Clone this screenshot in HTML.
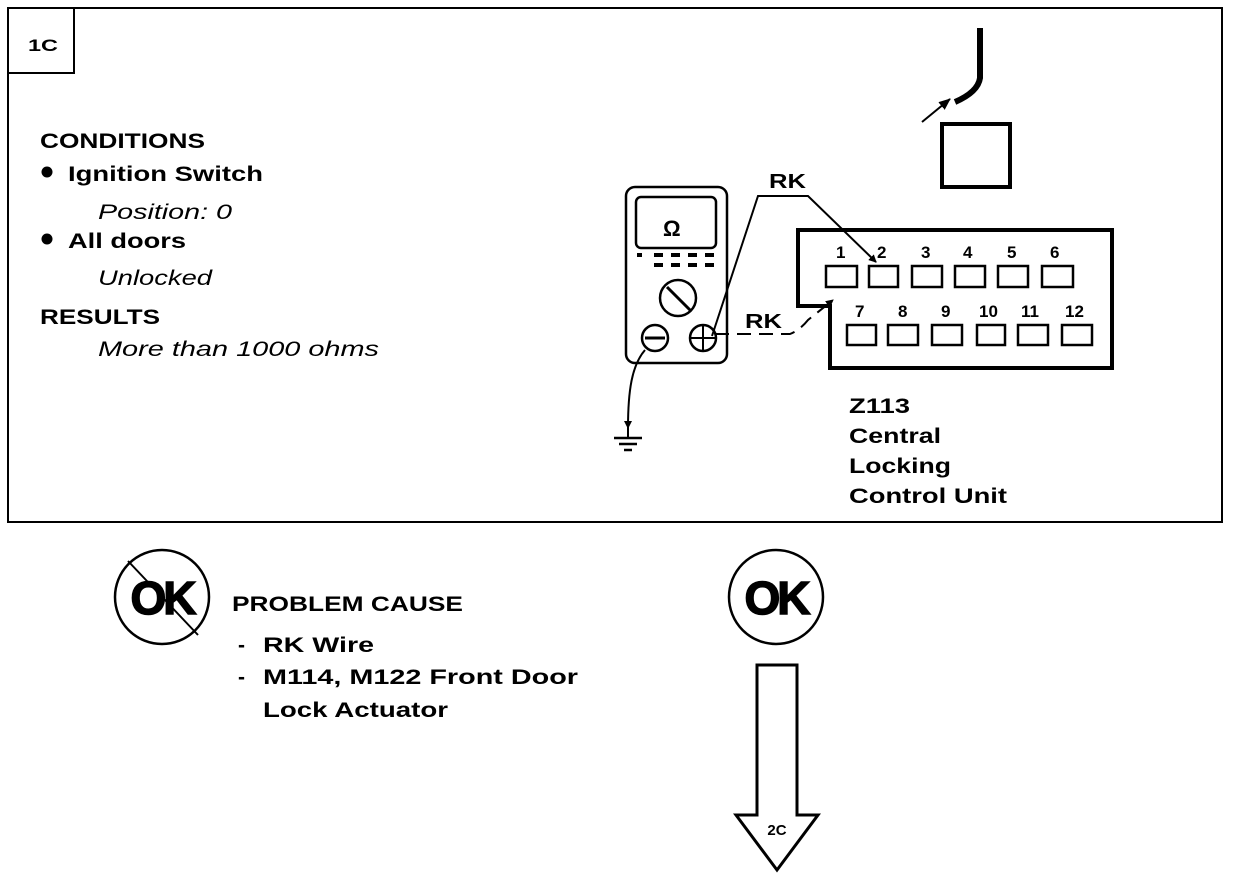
<!DOCTYPE html>
<html><head><meta charset="utf-8"><style>
html,body{margin:0;padding:0;background:#fff;}
svg{display:block;}
text{font-family:"Liberation Sans",sans-serif;font-weight:bold;fill:#000;}
.i{font-style:italic;font-weight:normal;}
</style></head><body>
<svg width="1248" height="874" viewBox="0 0 1248 874" xmlns="http://www.w3.org/2000/svg">
<defs>
<marker id="ah" markerWidth="8" markerHeight="8" refX="7" refY="4" orient="auto" markerUnits="userSpaceOnUse"><path d="M0,0 L8,4 L0,8 z" fill="#000"/></marker>
<marker id="ah2" markerWidth="12" markerHeight="10" refX="11" refY="5" orient="auto" markerUnits="userSpaceOnUse"><path d="M0,0 L12,5 L0,10 z" fill="#000"/></marker>
</defs>
<g fill="none" stroke="#000">
<rect x="8" y="8" width="1214" height="514" stroke-width="2"/>
<polyline points="8,73 74,73 74,8" stroke-width="2"/>
</g>
<text x="28" y="51" font-size="17" textLength="30" lengthAdjust="spacingAndGlyphs">1C</text>
<text x="40" y="148" font-size="21" textLength="165" lengthAdjust="spacingAndGlyphs">CONDITIONS</text>
<circle cx="47" cy="172" r="5.5"/>
<text x="68" y="181" font-size="21" textLength="195" lengthAdjust="spacingAndGlyphs">Ignition Switch</text>
<text x="98" y="219" font-size="21" class="i" textLength="134" lengthAdjust="spacingAndGlyphs">Position: 0</text>
<circle cx="47" cy="239" r="5.5"/>
<text x="68" y="248" font-size="21" textLength="118" lengthAdjust="spacingAndGlyphs">All doors</text>
<text x="98" y="285" font-size="21" class="i" textLength="114" lengthAdjust="spacingAndGlyphs">Unlocked</text>
<text x="40" y="324" font-size="21" textLength="120" lengthAdjust="spacingAndGlyphs">RESULTS</text>
<text x="98" y="356" font-size="21" class="i" textLength="281" lengthAdjust="spacingAndGlyphs">More than 1000 ohms</text>

<!-- meter -->
<g fill="none" stroke="#000" stroke-width="2.5">
<rect x="626" y="187" width="101" height="176" rx="9"/>
<rect x="636" y="197" width="80" height="51" rx="5"/>
<circle cx="678" cy="298" r="18"/>
<line x1="667" y1="287" x2="690" y2="310" stroke-width="3"/>
<circle cx="655" cy="338" r="13"/>
<line x1="645" y1="338" x2="665" y2="338" stroke-width="3"/>
<circle cx="703" cy="338" r="13"/>
<line x1="691" y1="338" x2="715" y2="338" stroke-width="2"/>
<line x1="703" y1="326" x2="703" y2="350" stroke-width="2"/>
</g>
<text x="663" y="236" font-size="22">Ω</text>
<g stroke="#000" stroke-width="4">
<line x1="637" y1="255" x2="642" y2="255"/><line x1="654" y1="255" x2="663" y2="255"/><line x1="671" y1="255" x2="680" y2="255"/><line x1="688" y1="255" x2="697" y2="255"/><line x1="705" y1="255" x2="714" y2="255"/>
<line x1="654" y1="265" x2="663" y2="265"/><line x1="671" y1="265" x2="680" y2="265"/><line x1="688" y1="265" x2="697" y2="265"/><line x1="705" y1="265" x2="714" y2="265"/>
</g>
<!-- ground -->
<path d="M645,350 C632,365 628,390 628,428" fill="none" stroke="#000" stroke-width="2" marker-end="url(#ah)"/>
<line x1="628" y1="428" x2="628" y2="437" stroke="#000" stroke-width="2"/>
<g stroke="#000" stroke-width="2.5"><line x1="614" y1="438" x2="642" y2="438"/><line x1="619" y1="444" x2="637" y2="444"/><line x1="624" y1="450" x2="632" y2="450"/></g>

<!-- wires -->
<polyline points="712,336 758,196 808,196 876,262" fill="none" stroke="#000" stroke-width="2" marker-end="url(#ah)"/>
<text x="769" y="188" font-size="20" textLength="37" lengthAdjust="spacingAndGlyphs">RK</text>
<path d="M715,334 L790,334 Q800,330 808,320 L833,300" fill="none" stroke="#000" stroke-width="2" stroke-dasharray="14,8" marker-end="url(#ah)"/>
<text x="745" y="328" font-size="20" textLength="37" lengthAdjust="spacingAndGlyphs">RK</text>

<!-- connector -->
<path d="M798,230 L1112,230 L1112,368 L830,368 L830,306 L798,306 Z" fill="none" stroke="#000" stroke-width="4"/>
<g fill="none" stroke="#000" stroke-width="2.5">
<rect x="826" y="266" width="31" height="21"/><rect x="869" y="266" width="29" height="21"/><rect x="912" y="266" width="30" height="21"/><rect x="955" y="266" width="30" height="21"/><rect x="998" y="266" width="30" height="21"/><rect x="1042" y="266" width="31" height="21"/>
<rect x="847" y="325" width="29" height="20"/><rect x="888" y="325" width="30" height="20"/><rect x="932" y="325" width="30" height="20"/><rect x="977" y="325" width="28" height="20"/><rect x="1018" y="325" width="30" height="20"/><rect x="1062" y="325" width="30" height="20"/>
</g>
<g font-size="17">
<text x="836" y="258">1</text><text x="877" y="258">2</text><text x="921" y="258">3</text><text x="963" y="258">4</text><text x="1007" y="258">5</text><text x="1050" y="258">6</text>
<text x="855" y="317">7</text><text x="898" y="317">8</text><text x="941" y="317">9</text><text x="979" y="317">10</text><text x="1021" y="317">11</text><text x="1065" y="317">12</text>
</g>
<text x="849" y="413" font-size="21" textLength="61" lengthAdjust="spacingAndGlyphs">Z113</text>
<text x="849" y="443" font-size="21" textLength="92" lengthAdjust="spacingAndGlyphs">Central</text>
<text x="849" y="473" font-size="21" textLength="102" lengthAdjust="spacingAndGlyphs">Locking</text>
<text x="849" y="503" font-size="21" textLength="158" lengthAdjust="spacingAndGlyphs">Control Unit</text>

<!-- top right -->
<rect x="942" y="124" width="68" height="63" fill="none" stroke="#000" stroke-width="4"/>
<path d="M980,28 L980,78 Q978,92 955,102" fill="none" stroke="#000" stroke-width="6"/>
<line x1="922" y1="122" x2="950" y2="99" stroke="#000" stroke-width="2" marker-end="url(#ah2)"/>

<!-- bottom -->
<circle cx="162" cy="597" r="47" fill="none" stroke="#000" stroke-width="2.5"/>
<text x="162" y="614" font-size="46" text-anchor="middle" letter-spacing="-3" stroke="#000" stroke-width="1.5">OK</text>
<line x1="128" y1="561" x2="198" y2="635" stroke="#000" stroke-width="2"/>
<text x="232" y="611" font-size="21" textLength="231" lengthAdjust="spacingAndGlyphs">PROBLEM CAUSE</text>
<text x="238" y="652" font-size="21">-</text>
<text x="263" y="652" font-size="21" textLength="111" lengthAdjust="spacingAndGlyphs">RK  Wire</text>
<text x="238" y="684" font-size="21">-</text>
<text x="263" y="684" font-size="21" textLength="315" lengthAdjust="spacingAndGlyphs">M114, M122 Front Door</text>
<text x="263" y="717" font-size="21" textLength="185" lengthAdjust="spacingAndGlyphs">Lock Actuator</text>

<circle cx="776" cy="597" r="47" fill="none" stroke="#000" stroke-width="2.5"/>
<text x="776" y="614" font-size="46" text-anchor="middle" letter-spacing="-3" stroke="#000" stroke-width="1.5">OK</text>
<path d="M757,665 L797,665 L797,815 L818,815 L777,870 L736,815 L757,815 Z" fill="none" stroke="#000" stroke-width="3"/>
<text x="777" y="835" font-size="15" text-anchor="middle">2C</text>
</svg>
</body></html>
